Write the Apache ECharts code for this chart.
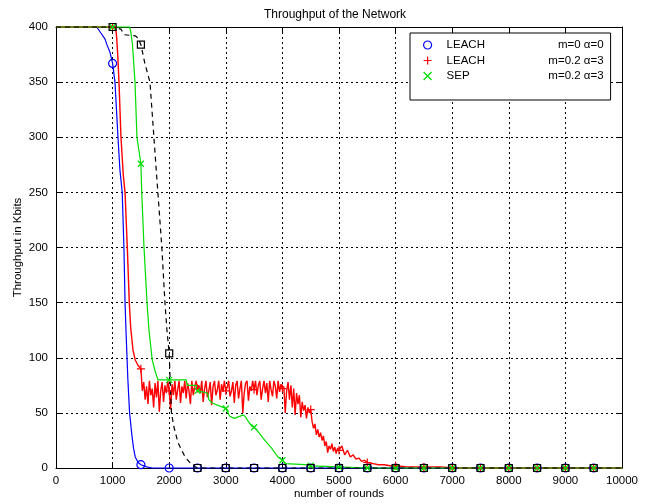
<!DOCTYPE html>
<html>
<head>
<meta charset="utf-8">
<script src="https://cdn.jsdelivr.net/npm/echarts@6/dist/echarts.min.js"></script>
<style>html,body{margin:0;padding:0;background:#fff;}#c{width:649px;height:504px;}</style>
</head>
<body>
<div id="c"></div>
<script>
// ---- data ----
const chartTitle = 'Throughput of the Network';
const xName = 'number of rounds';
const yName = 'Throughput in Kbits';
const seriesNames = ['LEACH m=0 α=0', 'LEACH m=0.2 α=3', 'SEP m=0.2 α=3', 'other'];
const legendProtocols = ['LEACH', 'LEACH', 'SEP'];
const legendParams = ['m=0 α=0', 'm=0.2 α=3', 'm=0.2 α=3'];

// Blue: LEACH m=0 alpha=0
const blueRounds = [0, 720, 787, 866, 900, 954, 1000, 1042, 1095, 1130, 1170, 1200, 1220, 1240, 1270, 1300, 1340, 1370, 1400, 1450, 1500, 1600, 1700, 2000, 2500, 3000, 3500, 4000, 4500, 5000, 5500, 6000, 6500, 7000, 7500, 8000, 8500, 9000, 9500, 10000];
const blueKbits  = [400, 400, 395, 389, 384, 377, 367, 350, 300, 270, 250, 200, 150, 120, 80, 50, 30, 18, 10, 5, 3, 1, 0, 0, 0, 0, 0, 0, 0, 0, 0, 0, 0, 0, 0, 0, 0, 0, 0, 0];

// Red: LEACH m=0.2 alpha=3
const redHeadRounds = [0, 1000, 1050, 1070, 1090, 1113, 1148, 1190, 1220, 1260, 1295, 1320, 1360, 1400, 1450, 1500];
const redHeadKbits  = [400, 400, 400, 392, 375, 350, 300, 265, 250, 200, 150, 127, 107, 98, 93, 90];
const redBandStart = 1525, redBandStep = 25; // band 1525..4000
const redBandKbits = [
  70, 78, 62, 74, 58, 79, 66, 72, 55, 77, 64, 79, 51, 70, 78, 60, 75, 68, 79, 70,
  53, 76, 66, 79, 62, 71, 79, 59, 74, 68, 79, 63, 77, 70, 58, 79, 66, 73, 79, 72,
  75, 68, 79, 60, 72, 79, 64, 70, 78, 57, 74, 79, 66, 71, 79, 62, 76, 69, 79, 70,
  73, 79, 65, 70, 78, 59, 75, 79, 63, 72, 79, 50, 68, 77, 79, 61, 74, 70, 79, 71,
  79, 66, 75, 79, 62, 72, 79, 68, 77, 60, 79, 71, 65, 79, 74, 63, 79, 69, 76, 72
];
const redDecayStart = 4025, redDecayStep = 25; // 4025..5000
const redDecayKbits = [
  74, 50, 70, 78, 62, 75, 55, 72, 48, 68, 58, 66, 46, 60, 52, 57, 45, 55, 50, 53,
  42, 36, 40, 30, 35, 28, 32, 25, 29, 20, 24, 14, 20, 17, 22, 15, 19, 13, 18, 16
];
const redTailRounds = [5050, 5100, 5150, 5200, 5250, 5300, 5350, 5400, 5450, 5500, 5600, 5700, 5800, 5900, 6000, 6200, 6500, 6800, 7000, 7500, 8000, 8500, 9000, 9500, 10000];
const redTailKbits  = [20, 12, 16, 10, 12, 8, 9, 6, 7, 5, 4, 3, 3, 2, 2, 1, 1, 1, 0, 0, 0, 0, 0, 0, 0];

// Green: SEP m=0.2 alpha=3
const greenRounds = [0, 1000, 1300, 1320, 1350, 1396, 1430, 1500, 1515, 1555, 1608, 1643, 1700, 1750, 1800, 2000, 2300, 2320, 2480, 2500, 2680, 2700, 2760, 2950, 3000, 3070, 3150, 3300, 3340, 3400, 3460, 3500, 3570, 3690, 3810, 3920, 4000, 4050, 4400, 4500, 5000, 5500, 6000, 6500, 7000, 7500, 8000, 8500, 9000, 9500, 10000];
const greenKbits  = [400, 400, 400, 396, 385, 350, 300, 276, 250, 200, 150, 125, 98, 88, 80, 80, 80, 75, 75, 70, 68, 62, 59, 55, 54, 47, 45, 48, 47, 42, 38, 37, 33, 25, 18, 10, 7, 4, 3, 2, 1, 0, 0, 0, 0, 0, 0, 0, 0, 0, 0];

// Black dashed (not in legend)
const blackRounds = [0, 1000, 1150, 1200, 1400, 1450, 1500, 1570, 1660, 1730, 1784, 1800, 1870, 1925, 1960, 2000, 2020, 2040, 2080, 2155, 2280, 2400, 2500, 3000, 3500, 4000, 4500, 5000, 5500, 6000, 6500, 7000, 7500, 8000, 8500, 9000, 9500, 10000];
const blackKbits  = [400, 400, 398, 393, 392, 390, 384, 367, 350, 300, 261, 250, 200, 150, 125, 104, 75, 50, 38, 23, 10, 3, 0, 0, 0, 0, 0, 0, 0, 0, 0, 0, 0, 0, 0, 0, 0, 0];

// ---- build ----
function pairs(xs, ys) { return xs.map((x, i) => [x, ys[i]]); }
const redData = pairs(redHeadRounds, redHeadKbits)
  .concat(redBandKbits.map((v, i) => [redBandStart + i * redBandStep, v]))
  .concat(redDecayKbits.map((v, i) => [redDecayStart + i * redDecayStep, v]))
  .concat(pairs(redTailRounds, redTailKbits));

const FONT = '"Liberation Sans", Arial, sans-serif';
const PLUS = 'path://M0,5L10,5M5,0L5,10';
const CROSS = 'path://M0,0L10,10M10,0L0,10';
function marked(sym) {
  return function (v) {
    const x = v[0];
    return (x >= 1000 && x <= 9500 && x % 500 === 0) ? sym : 'none';
  };
}
function lineSeries(name, data, color, sym, size, dashed, width) {
  return {
    name: name, type: 'line', data: data,
    symbol: marked(sym), symbolSize: size, showSymbol: true,
    lineStyle: { color: color, width: width, type: dashed ? [5, 4] : 'solid' },
    itemStyle: { color: 'rgba(0,0,0,0)', borderColor: color, borderWidth: 1.2 },
    emphasis: { disabled: true }, silent: true, animation: false, clip: false
  };
}
function plain(v) { return String(v); }

const axisCommon = {
  type: 'value',
  axisLine: { show: true, onZero: false, lineStyle: { color: '#000', width: 1 } },
  axisTick: { show: true, inside: true, length: 5, lineStyle: { color: '#000' } }
};

const chart = echarts.init(document.getElementById('c'), null, { renderer: 'canvas' });
chart.setOption({
  backgroundColor: '#fff',
  animation: false,
  title: {
    text: chartTitle, left: 264, top: 9, padding: 0,
    textStyle: { fontFamily: FONT, fontSize: 12, fontWeight: 'normal', color: '#000' }
  },
  grid: { left: 56, right: 27, top: 27, bottom: 36, containLabel: false, outerBoundsMode: 'none' },
  legend: {
    left: 410, top: 33, orient: 'vertical',
    backgroundColor: '#fff', borderColor: '#000', borderWidth: 1,
    padding: [6, 7, 18, 13], itemWidth: 8, itemHeight: 8, itemGap: 3.5,
    selectedMode: false,
    data: [
      { name: seriesNames[0], icon: 'circle', itemStyle: { color: 'rgba(0,0,0,0)', borderColor: '#0000ff', borderWidth: 1.2 } },
      { name: seriesNames[1], icon: PLUS, itemStyle: { color: 'rgba(0,0,0,0)', borderColor: '#ff0000', borderWidth: 1.2 } },
      { name: seriesNames[2], icon: CROSS, itemStyle: { color: 'rgba(0,0,0,0)', borderColor: '#00dd00', borderWidth: 1.2 } }
    ],
    formatter: function (name) {
      const i = seriesNames.indexOf(name);
      return '{a|' + legendProtocols[i] + '}{b|' + legendParams[i] + '}';
    },
    textStyle: {
      fontFamily: FONT, fontSize: 11.5, color: '#000',
      rich: {
        a: { width: 82, padding: [0, 0, 0, 10], fontFamily: FONT, fontSize: 11.5, color: '#000' },
        b: { width: 75, align: 'right', fontFamily: FONT, fontSize: 11.5, color: '#000' }
      }
    }
  },
  xAxis: [
    Object.assign({}, axisCommon, {
      position: 'bottom', min: 0, max: 10000, interval: 1000,
      name: xName, nameLocation: 'middle', nameGap: 20, nameMoveOverlap: false,
      nameTextStyle: { fontFamily: FONT, fontSize: 11.5, color: '#000' },
      axisLabel: { show: true, margin: 7, fontFamily: FONT, fontSize: 11.5, color: '#000', formatter: plain },
      splitLine: { show: true, lineStyle: { color: '#000', width: 1, type: [2, 3] } }
    }),
    Object.assign({}, axisCommon, {
      position: 'top', min: 0, max: 10000, interval: 1000,
      axisLabel: { show: false }, splitLine: { show: false }
    })
  ],
  yAxis: [
    Object.assign({}, axisCommon, {
      position: 'left', min: 0, max: 400, interval: 50,
      name: yName, nameLocation: 'middle', nameGap: 32, nameMoveOverlap: false,
      nameTextStyle: { fontFamily: FONT, fontSize: 11.5, color: '#000' },
      axisLabel: { show: true, margin: 8, fontFamily: FONT, fontSize: 11.5, color: '#000', formatter: plain },
      splitLine: { show: true, lineStyle: { color: '#000', width: 1, type: [2, 3] } }
    }),
    Object.assign({}, axisCommon, {
      position: 'right', min: 0, max: 400, interval: 50,
      axisLabel: { show: false }, splitLine: { show: false }
    })
  ],
  series: [
    lineSeries(seriesNames[0], pairs(blueRounds, blueKbits), '#0000ff', 'circle', 8, false, 1.2),
    lineSeries(seriesNames[1], redData, '#ff0000', PLUS, 8, false, 1.4),
    lineSeries(seriesNames[2], pairs(greenRounds, greenKbits), '#00dd00', CROSS, 6, false, 1.2),
    lineSeries(seriesNames[3], pairs(blackRounds, blackKbits), '#000000', 'rect', 7, true, 1.2)
  ]
});
</script>
</body>
</html>
